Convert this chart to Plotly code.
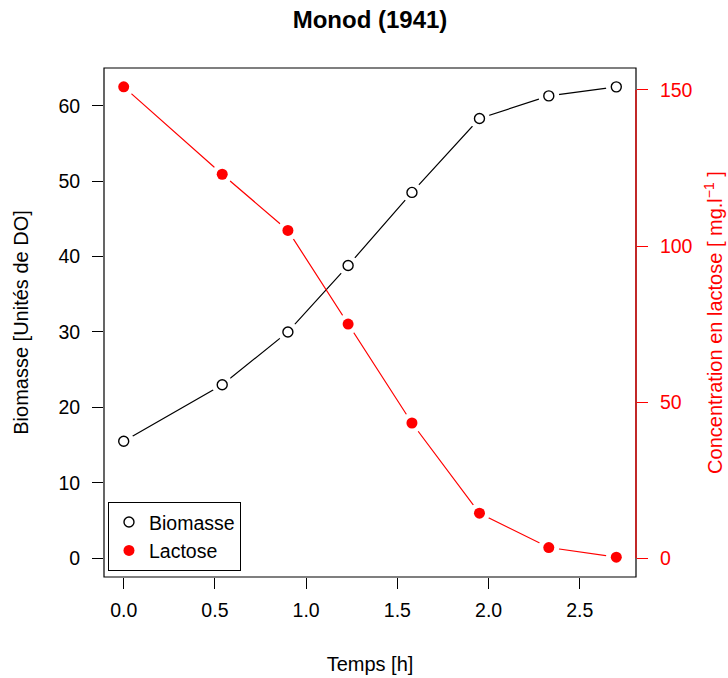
import plotly.graph_objects as go

temps = [0, 0.54, 0.9, 1.23, 1.58, 1.95, 2.33, 2.7]
biomasse = [15.5, 23.0, 30.0, 38.8, 48.5, 58.3, 61.3, 62.5]
lactose = [151, 123, 105, 75, 43.3, 14.4, 3.4, 0.3]

x_ticks = [0.0, 0.5, 1.0, 1.5, 2.0, 2.5]
x_ticklabels = ["0.0", "0.5", "1.0", "1.5", "2.0", "2.5"]
y_ticks = [0, 10, 20, 30, 40, 50, 60]
y2_ticks = [0, 50, 100, 150]

FONT = "Liberation Sans, Arial, Helvetica, sans-serif"
RED = "#FF0000"
FS = 19.5
FT = 20

def pad(lo, hi):
    d = (hi - lo) * 0.04
    return [lo - d, hi + d]

fig = go.Figure()
# lines
fig.add_trace(go.Scatter(x=temps, y=biomasse, mode="lines", line=dict(color="black", width=1.2),
                         showlegend=False, hoverinfo="skip"))
# white masks to create gaps (R type = "b")
fig.add_trace(go.Scatter(x=temps, y=biomasse, mode="markers",
                         marker=dict(color="white", size=21, line=dict(width=0)),
                         showlegend=False, hoverinfo="skip"))
fig.add_trace(go.Scatter(x=temps, y=biomasse, mode="markers", name="Biomasse",
                         marker=dict(symbol="circle", color="white", size=10,
                                     line=dict(color="black", width=1.4))))
fig.add_trace(go.Scatter(x=temps, y=lactose, mode="lines", yaxis="y2",
                         line=dict(color=RED, width=1.2), showlegend=False, hoverinfo="skip"))
fig.add_trace(go.Scatter(x=temps, y=lactose, mode="markers", yaxis="y2",
                         marker=dict(color="white", size=21, line=dict(width=0)),
                         showlegend=False, hoverinfo="skip"))
fig.add_trace(go.Scatter(x=temps, y=lactose, mode="markers", yaxis="y2", name="Lactose",
                         marker=dict(symbol="circle", color=RED, size=11, line=dict(width=0))))

fig.update_layout(
    width=728, height=678,
    margin=dict(l=104, r=92, t=68, b=101, autoexpand=False),
    paper_bgcolor="white", plot_bgcolor="white",
    font=dict(family=FONT, size=FS, color="black"),
    title=dict(text="<b>Monod (1941)</b>", x=0.5, xref="paper", xanchor="center",
               y=1 - 20 / 678, yref="container", yanchor="middle",
               font=dict(size=24, family=FONT, color="black")),
    xaxis=dict(range=pad(0, 2.7), tickvals=x_ticks, ticktext=x_ticklabels,
               showgrid=False, zeroline=False, showline=False, automargin=False,
               ticks="outside", ticklen=11, tickcolor="black", tickwidth=1,
               ticklabelstandoff=5,
               tickfont=dict(size=FS),
               title=dict(text="Temps [h]", font=dict(size=FT), standoff=36)),
    yaxis=dict(range=pad(0, 62.5), tickvals=y_ticks,
               showgrid=False, zeroline=False, showline=False, automargin=False,
               ticks="outside", ticklen=11, tickcolor="black", tickwidth=1,
               ticklabelstandoff=8,
               tickfont=dict(size=FS),
               title=dict(text="Biomasse [Unités de DO]", font=dict(size=FT), standoff=24)),
    yaxis2=dict(range=pad(0, 151), tickvals=y2_ticks, overlaying="y", side="right",
                showgrid=False, zeroline=False, showline=False, automargin=False,
                ticks="outside", ticklen=11, tickcolor=RED, tickwidth=1,
                ticklabelstandoff=8,
                tickfont=dict(size=FS, color=RED),
                title=dict(text="Concentration en lactose [ mg.l<sup>−1</sup> ]",
                           font=dict(size=FT, color=RED), standoff=16)),
    legend=dict(x=0.0075, y=0.012, xanchor="left", yanchor="bottom",
                bordercolor="black", borderwidth=1, bgcolor="white",
                font=dict(size=FS), tracegroupgap=0),
    shapes=[
        dict(type="rect", xref="paper", yref="paper", x0=0, x1=1, y0=0, y1=1,
             line=dict(color="black", width=1.2), layer="above"),
        dict(type="line", xref="paper", yref="y2", x0=1, x1=1, y0=y2_ticks[0], y1=y2_ticks[-1],
             line=dict(color=RED, width=1.2), layer="above"),
    ],
)

fig.write_html("out.html")
